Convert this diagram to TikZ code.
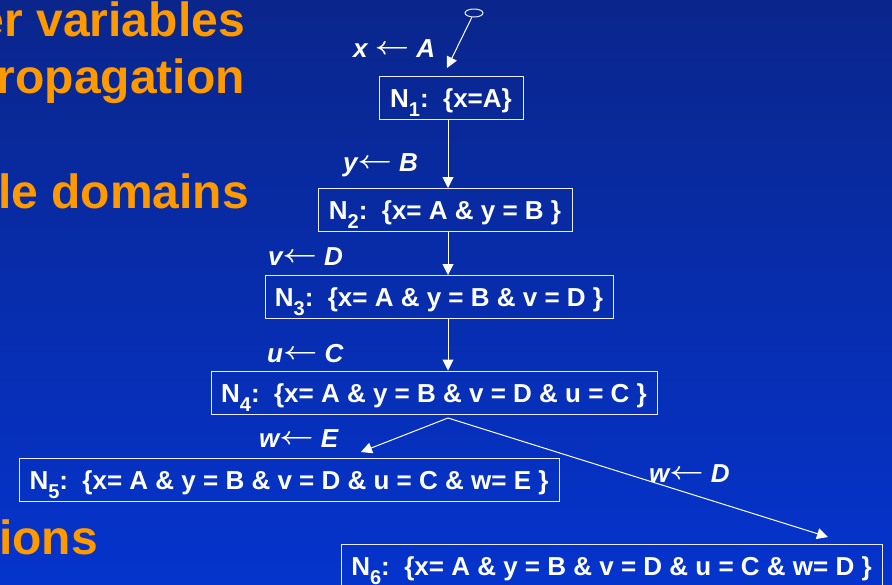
\documentclass[tikz,border=0pt]{standalone}
\usepackage{fontspec}
\setmainfont{Liberation Sans}
\usetikzlibrary{arrows.meta,shapes.geometric,calc}
\definecolor{bgtop}{RGB}{10,38,140}
\definecolor{bgbot}{RGB}{5,52,205}
\definecolor{slideorange}{RGB}{255,153,0}
\definecolor{linewhite}{RGB}{235,238,250}
\newcommand{\nsub}[1]{\smash{\raisebox{-9pt}{\fontsize{20}{20}\selectfont #1}}}
\newcommand{\larr}{\raisebox{2.5pt}{\scalebox{1.2}[1]{\boldmath$\leftarrow$}}}
\tikzset{
  statebox/.style={draw=linewhite, line width=1pt, text=white, inner sep=0pt,
    font=\fontsize{26}{30}\selectfont\bfseries, text height=19pt, text depth=0pt,
    minimum height=43pt},
  lbl/.style={text=white, inner sep=0pt, anchor=base west,
    font=\fontsize{26}{30}\selectfont\bfseries\itshape},
  bigtxt/.style={text=slideorange, inner sep=0pt, anchor=base east,
    font=\fontsize{48}{52}\selectfont\bfseries},
  arr/.style={draw=white, line width=1pt, -{Triangle[width=11pt,length=11pt]}}
}
\begin{document}
\begin{tikzpicture}[x=1pt,y=-1pt]
\useasboundingbox (0,0) rectangle (892,584);
\clip (0,0) rectangle (892,584);
\shade[top color=bgtop, bottom color=bgbot] (0,0) rectangle (892,584);

% orange slide text (cut off at left)
\node[bigtxt] (o1) at (245,36) {er variables};
\node[bigtxt] (o2) at (245,93) {ropagation};
\node[bigtxt] (o3) at (249,208) {le domains};
\node[bigtxt] (o4) at (98,554) {ions};

% state nodes
\node[statebox, minimum width=144pt] (N1) at (451,97.5) {N\nsub{1}:\ \ \{x=A\}};
\node[statebox, minimum width=254pt] (N2) at (445,210) {N\nsub{2}:\ \ \{x= A \& y = B \}};
\node[statebox, minimum width=348pt] (N3) at (439,297) {N\nsub{3}:\ \ \{x= A \& y = B \& v = D \}};
\node[statebox, minimum width=446pt] (N4) at (434,392.5) {N\nsub{4}:\ \ \{x= A \& y = B \& v = D \& u = C \}};
\node[statebox, minimum width=540pt] (N5) at (289,479.5) {N\nsub{5}:\ \ \{x= A \& y = B \& v = D \& u = C \& w= E \}};
\node[statebox, minimum width=541pt] (N6) at (611.5,565.5) {N\nsub{6}:\ \ \{x= A \& y = B \& v = D \& u = C \& w= D \}};

% start marker
\node[draw=linewhite, line width=1pt, ellipse, minimum width=18pt, minimum height=8pt, inner sep=0pt] (start) at (474,13) {};
\coordinate (t1) at (447,68);
\coordinate (col) at (448,0);
\coordinate (fork) at (448,418);
\coordinate (t5) at (361,452);
\coordinate (t6) at (828,537);

% connectors
\draw[arr] (start) -- (t1);
\draw[arr] (N1.south -| col) -- (N2.north -| col);
\draw[arr] (N2.south -| col) -- (N3.north -| col);
\draw[arr] (N3.south -| col) -- (N4.north -| col);
\draw[arr] (fork) -- (t5);
\draw[arr] (fork) -- (t6);

% labels
\node[lbl] (l1) at (353,57) {x \larr\ A};
\node[lbl] (l2) at (343,171) {y\larr\ B};
\node[lbl] (l3) at (268,265) {v\larr\ D};
\node[lbl] (l4) at (267,362) {u\larr\ C};
\node[lbl] (l5) at (259,447) {w\larr\ E};
\node[lbl] (l6) at (649,482) {w\larr\ D};
\end{tikzpicture}
\end{document}
